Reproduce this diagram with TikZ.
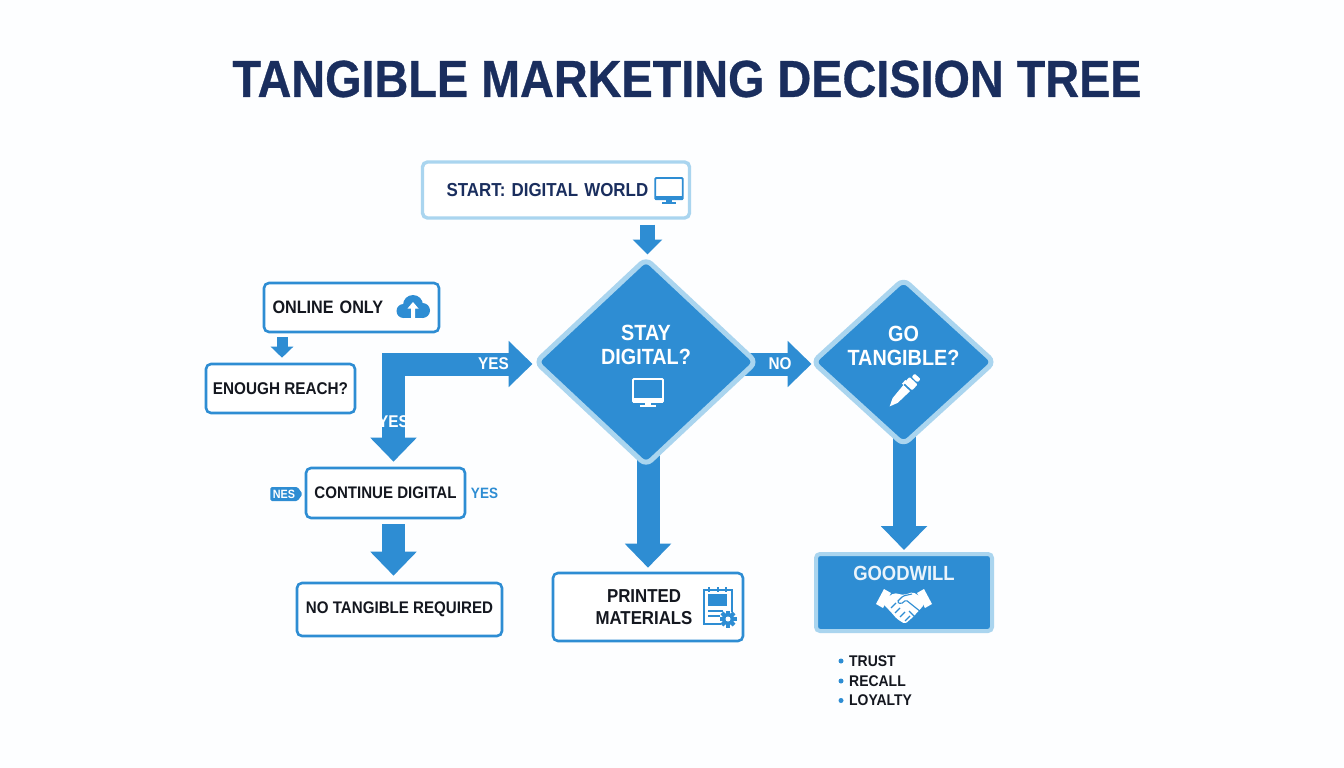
\documentclass[tikz,border=0pt]{standalone}
\usepackage{fontspec}
\setmainfont{Liberation Sans}[FakeStretch=0.9]
\newfontfamily\titlefont{Liberation Sans}[FakeStretch=0.9,BoldFeatures={FakeBold=0.6}]
\usetikzlibrary{arrows.meta,backgrounds,shapes.geometric,shapes.symbols}
\definecolor{flowblue}{HTML}{2E8DD3}
\definecolor{paleblue}{HTML}{AAD5EF}
\definecolor{navyink}{HTML}{1A2E5E}
\definecolor{darkink}{HTML}{14171F}
\definecolor{pagetint}{HTML}{FDFEFF}
\newcommand{\sz}[1]{\fontsize{#1}{#1}\selectfont\bfseries}
\tikzset{
        x=1pt, y=-1pt,
        % Boxes with a blue line
        box_plain/.style={rectangle, rounded corners=5pt, draw=flowblue, line width=2.6pt, fill=white, text=darkink, inner sep=0pt},
        % Decisions
        node_decision/.style={diamond, aspect=1, inner sep=0pt, rounded corners=7pt, draw=paleblue, line width=5pt, fill=flowblue},
        decision_text/.style={align=center, text=white, inner sep=0pt, font=\sz{22}},
        % Block arrows
        arrow_big/.style={draw=flowblue, line width=23pt, -{Triangle[length=24pt,width=45pt]}},
        arrow_small/.style={draw=flowblue, line width=11pt, -{Triangle[length=11pt,width=22pt]}},
        arrow_start/.style={draw=flowblue, line width=15pt, -{Triangle[length=15pt,width=29pt]}},
        arrow_label/.style={text=white, inner sep=0pt, font=\sz{17}},
        list_item/.style={anchor=west, text=darkink, inner sep=0pt, font=\sz{15.5}},
        % Icons
        pics/monitor_icon/.style={code={
                \draw[#1, line width=1.8pt, rounded corners=1pt] (-15,-13) rectangle (15,10);
                \fill[#1] (-15,6) rectangle (15,10.5);
                \fill[#1] (-3,10) rectangle (3,13);
                \fill[#1] (-8,13) rectangle (8,15);
        }},
        pics/cloud_icon/.style={code={
                \fill[flowblue] (-9.5,4) circle (7);
                \fill[flowblue] (0,-2) circle (10);
                \fill[flowblue] (9.5,3.5) circle (7.5);
                \fill[flowblue] (-9,2) rectangle (9,11);
                \fill[white] (0,-5) -- (-5.5,1.5) -- (-2,1.5) -- (-2,11) -- (2,11) -- (2,1.5) -- (5.5,1.5) -- cycle;
        }},
        pics/pen_icon/.style={code={
                \fill[white] (-21,0) -- (-13,-3.5) -- (4,-4.5) -- (4,4.5) -- (-13,3.5) -- cycle;
                \fill[white, rounded corners=1pt] (6,-5.5) rectangle (14,5.5);
                \fill[white, rounded corners=1pt] (15.5,-4) rectangle (20,4);
                \fill[white] (4,-6.5) rectangle (9,-4.5);
        }},
        pics/doc_icon/.style={code={
                \draw[flowblue, line width=1.5pt] (14,5) -- (14,-17) -- (-14,-17) -- (-14,17) -- (3,17);
                \fill[flowblue] (-10,-13) rectangle (9,-1);
                \draw[flowblue, line width=1.5pt] (-9,-20) -- (-9,-15) (0,-20) -- (0,-15) (8,-20) -- (8,-15);
                \draw[flowblue, line width=1.6pt] (-10,4) -- (5,4) (-10,9) -- (2,9);
                \foreach \toothangle in {0,45,...,315} {
                        \fill[flowblue, rotate around={\toothangle:(10,12)}] (8,3.5) rectangle (12,7);
                }
                \fill[flowblue] (10,12) circle (6);
                \fill[white] (10,12) circle (2.5);
        }},
        pics/shake_icon/.style={code={
                \fill[white] (-28,1) -- (-20,-14) -- (-13,-10) -- (-21,5) -- cycle;
                \fill[white] (28,1) -- (20,-14) -- (13,-10) -- (21,5) -- cycle;
                \fill[white, rounded corners=2pt] (-19,-4) -- (-10,-10) -- (0,-8) -- (9,-11) -- (18,-5) -- (20,2) -- (9,14) -- (1,21) -- (-7,16) -- (-14,8) -- (-21,1) -- cycle;
                \draw[flowblue, line width=1.1pt, rounded corners=1.5pt] (8,-9) -- (-1,-7) -- (-7,-1) -- (-3,1) -- (2,-3) -- (17,9);
                \draw[flowblue, line width=1.1pt] (-13,5) -- (-8,0) (-9,10) -- (-4,5) (-4,14) -- (1,9) (1,18) -- (6,13) (5,8) -- (11,14);
        }}
}
\begin{document}
\begin{tikzpicture}
\useasboundingbox (0,0) rectangle (1344,768);

% Title
\node[text=navyink, inner sep=0pt, font=\titlefont\sz{52}] (title) at (687,79) {TANGIBLE MARKETING DECISION TREE};

% Decisions
\node[node_decision, minimum width=222pt, minimum height=208pt] (stay) at (646,362) {};
\node[node_decision, minimum width=183pt, minimum height=167pt] (go) at (903.5,362) {};
\node[decision_text] (stay_text) at (646,345) {STAY\\[2.5pt]DIGITAL?};
\node[decision_text] (go_text) at (903.5,346) {GO\\[2.5pt]TANGIBLE?};

% Boxes
\node[box_plain, draw=paleblue, line width=3.4pt, minimum width=267pt, minimum height=56pt, text width=219pt, align=left, text=navyink, font=\sz{18.8}] (start) at (556,190) {START: DIGITAL WORLD};
\node[box_plain, minimum width=175pt, minimum height=49pt, text width=158pt, align=left, font=\sz{18}] (online) at (351.5,307.5) {ONLINE ONLY};
\node[box_plain, minimum width=149pt, minimum height=49pt, font=\sz{17}] (reach) at (280.5,388.5) {ENOUGH REACH?};
\node[box_plain, minimum width=159pt, minimum height=50pt, font=\sz{16.75}] (continue) at (385.5,493) {CONTINUE DIGITAL};
\node[box_plain, minimum width=205pt, minimum height=53pt, font=\sz{16.8}] (notangible) at (399.5,609.5) {NO TANGIBLE REQUIRED};
\node[box_plain, minimum width=190pt, minimum height=68pt, align=center, font=\sz{18.7}] (printed) at (648,607) {PRINTED\hspace*{8pt}\\[3pt]MATERIALS\hspace*{8pt}};
\node[rectangle, rounded corners=4pt, draw=paleblue, line width=4pt, fill=flowblue, minimum width=176pt, minimum height=77pt] (goodwill) at (904,592.5) {};
\node[text=white!90!flowblue, inner sep=0pt, font=\sz{20.5}] (goodwill_text) at (904,573) {GOODWILL};

% Side tags
\node[signal, signal to=east, signal pointer angle=110, rounded corners=1.5pt, fill=flowblue, text=white, inner xsep=2.5pt, inner ysep=1pt, minimum height=14pt, font=\sz{12}] (nes) at (284,494) {NES};
\node[text=flowblue, inner sep=0pt, font=\sz{15}] (yes_right) at (484.5,493.5) {YES};

% Bullet list
\node[list_item] (trust) at (849,661) {TRUST};
\node[list_item] (recall) at (849,681) {RECALL};
\node[list_item] (loyalty) at (849,700.5) {LOYALTY};
\foreach \itemname in {trust,recall,loyalty} {
        \fill[flowblue] (\itemname.west) ++(-8,0) circle (2.5);
}

% Connectors
\begin{scope}[on background layer]
        \fill[pagetint] (0,0) rectangle (1344,768);
        \draw[arrow_start, shorten >=1pt] ([xshift=1.5pt]stay.north |- start.south) ++(0,5) coordinate (start_out) -- ([xshift=1.5pt]stay.north);
        \draw[arrow_small, shorten <=4pt, shorten >=5pt] (online.south -| reach.north) ++(1.5,0) coordinate (online_out) -- (online_out |- reach.north);
        \draw[draw=flowblue, line width=23pt, {Triangle[length=24pt,width=45pt]}-{Triangle[length=24pt,width=45pt]}, shorten >=5pt] ([yshift=-2pt]stay.west) -| ([xshift=8pt]continue.north);
        \draw[arrow_big, shorten <=5pt, shorten >=6pt] ([xshift=8pt]continue.south) -- ([xshift=-6pt]notangible.north);
        \draw[arrow_big] ([xshift=-20pt,yshift=-2pt]stay.east) -- ([xshift=2pt,yshift=-2pt]go.west);
        \draw[arrow_big, shorten >=4pt] ([xshift=2pt,yshift=20pt]stay.south) -- (printed.north);
        \draw[arrow_big, shorten >=2pt] ([xshift=0.5pt,yshift=20pt]go.south) -- (goodwill.north);
\end{scope}

% Arrow labels
\node[arrow_label] (yes_across) at (493.5,364) {YES};
\node[arrow_label] (yes_down) at (393.5,422) {YES};
\node[arrow_label] (no) at (780,364) {NO};

% Icons
\pic[scale=0.92] at (669,190) {monitor_icon=flowblue};
\pic at (648,392) {monitor_icon=white};
\pic at (413,307) {cloud_icon};
\pic[rotate=47] at (904,391) {pen_icon};
\pic at (718,607) {doc_icon};
\pic at (904,603) {shake_icon};
\end{tikzpicture}
\end{document}
